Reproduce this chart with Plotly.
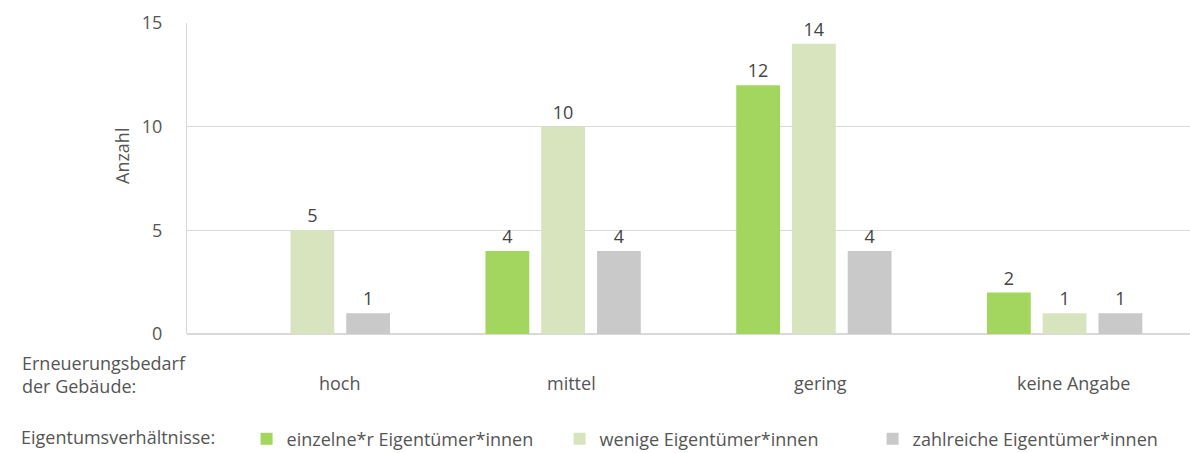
import plotly.graph_objects as go

# Erneuerungsbedarf der Gebäude nach Eigentumsverhältnissen
categories = ["hoch", "mittel", "gering", "keine Angabe"]
einzelne = [None, 4, 12, 2]
wenige = [5, 10, 14, 1]
zahlreiche = [1, 4, 4, 1]
series_names = ["einzelne*r Eigentümer*innen", "wenige Eigentümer*innen", "zahlreiche Eigentümer*innen"]
y_ticks = [0, 5, 10, 15]

colors = ["#a3d65f", "#d8e4bd", "#c9c9c9"]
label_shift = [28, 8, 7, 9]  # horizontal offset of category captions (px)
font_family = "Open Sans"
text_color = "#555555"
W, H = 1190, 453
L, R, T, B = 187, 0, 23, 119
plot_w = W - L - R
plot_h = H - T - B

fig = go.Figure()
for name, vals, col in zip(series_names, [einzelne, wenige, zahlreiche], colors):
    fig.add_trace(go.Bar(
        x=categories, y=vals, name=name,
        marker=dict(color=col, line=dict(width=0)),
        text=[("" if v is None else str(v)) for v in vals],
        textposition="outside", cliponaxis=False,
        textfont=dict(size=18, color="#444444", family=font_family),
    ))

fig.update_layout(
    width=W, height=H,
    margin=dict(l=L, r=R, t=T, b=B, autoexpand=False),
    paper_bgcolor="white", plot_bgcolor="white",
    barmode="group", bargap=0.333, bargroupgap=0.214,
    font=dict(family=font_family, size=18, color=text_color),
    showlegend=True,
    legend=dict(
        orientation="h", xref="container", yref="container",
        x=19 / W, y=14 / H, xanchor="left", yanchor="middle",
        title=dict(text="Eigentumsverhältnisse:&nbsp;&nbsp;&nbsp;&nbsp;&nbsp;",
                   font=dict(size=18, color=text_color), side="left"),
        font=dict(size=18, color=text_color),
        itemwidth=30, traceorder="normal",
        entrywidth=268, entrywidthmode="pixels",
    ),
)
fig.update_xaxes(
    range=[-0.5, 3.5], showgrid=False, showline=False, zeroline=False,
    ticks="", showticklabels=False,
)
fig.update_yaxes(
    range=[0, 15], tickvals=y_ticks, showgrid=True, gridcolor="#d9d9d9", gridwidth=1,
    showline=True, linecolor="#d9d9d9", linewidth=1, zeroline=True, zerolinecolor="#d9d9d9",
    ticks="", ticklabelstandoff=20,
    tickfont=dict(size=18, color=text_color),
)
# category captions below the axis
for cat, dx in zip(categories, label_shift):
    fig.add_annotation(
        text=cat, x=cat, xref="x", yref="paper", y=-(383 - (H - B)) / plot_h,
        xshift=dx, xanchor="center", yanchor="middle", showarrow=False,
        font=dict(size=18, color=text_color, family=font_family),
    )
# y-axis title
fig.add_annotation(
    text="Anzahl", textangle=-90, xref="paper", yref="paper",
    x=(122 - L) / plot_w, y=(H - B - 156) / plot_h, xanchor="center", yanchor="middle",
    showarrow=False, font=dict(size=18, color=text_color, family=font_family),
)
# x-axis caption
fig.add_annotation(
    text="Erneuerungsbedarf<br>der Gebäude:", xref="paper", yref="paper",
    x=(20 - L) / plot_w, y=-(349 - (H - B)) / plot_h, xanchor="left", yanchor="top", align="left",
    showarrow=False, font=dict(size=18, color=text_color, family=font_family),
)

fig.write_html("out.html")
